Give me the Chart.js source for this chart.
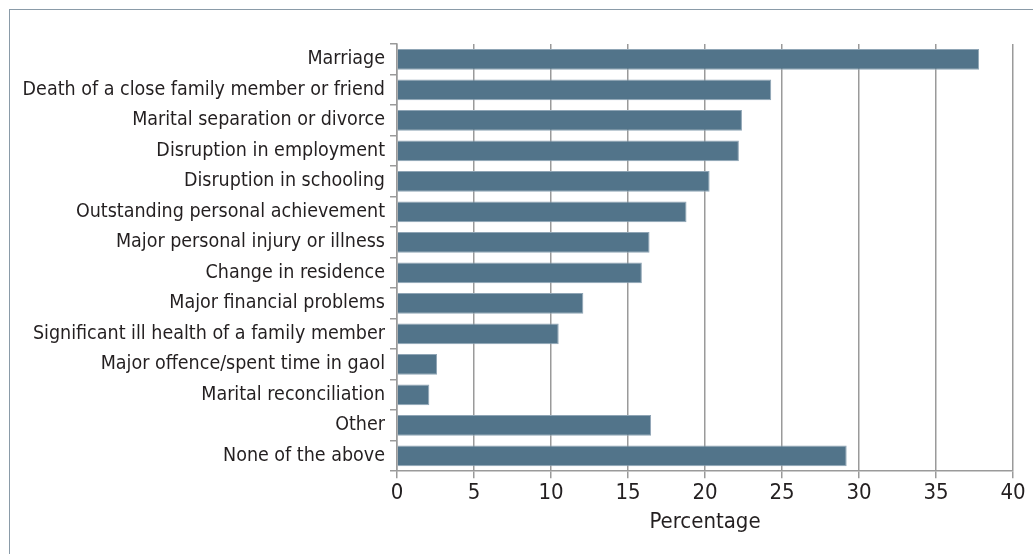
<!DOCTYPE html>
<html>
<head>
<meta charset="utf-8">
<script src="https://cdn.jsdelivr.net/npm/chart.js@4/dist/chart.umd.min.js"></script>
<style>
  html, body { margin: 0; padding: 0; background: #fff; overflow: hidden; }
  #wrap { position: relative; width: 1033px; height: 554px; }
  #frame { position: absolute; left: 9px; top: 9px; width: 1100px; height: 600px;
           border: 1.5px solid #8a9ba8; box-sizing: border-box; }
  #chart { position: absolute; left: 0; top: 0; }
</style>
</head>
<body>
<div id="wrap">
  <div id="frame"></div>
  <canvas id="chart" width="1033" height="554"></canvas>
</div>
<script>
// categories and values (percent)
const events = [
  'Marriage',
  'Death of a close family member or friend',
  'Marital separation or divorce',
  'Disruption in employment',
  'Disruption in schooling',
  'Outstanding personal achievement',
  'Major personal injury or illness',
  'Change in residence',
  'Major financial problems',
  'Significant ill health of a family member',
  'Major offence/spent time in gaol',
  'Marital reconciliation',
  'Other',
  'None of the above'
];
const percentages = [37.8, 24.3, 22.4, 22.2, 20.3, 18.8, 16.4, 15.9, 12.1, 10.5, 2.6, 2.1, 16.5, 29.2];
const xTicks = [0, 5, 10, 15, 20, 25, 30, 35, 40];

const fontFamily = '"DejaVu Sans Condensed", "Liberation Sans", sans-serif';
const textColor = '#231f20';
const gridColor = '#9a9a9a';

const ctx = document.getElementById('chart');
const myChart = new Chart(ctx, {
  type: 'bar',
  data: {
    labels: events,
    datasets: [{
      data: percentages,
      backgroundColor: '#52748a',
      borderColor: '#8fa5b5',
      borderWidth: 1,
      barPercentage: 0.68,
      categoryPercentage: 1
    }]
  },
  options: {
    indexAxis: 'y',
    responsive: false,
    animation: false,
    layout: { padding: { top: 44, right: 20, bottom: 19, left: 0 } },
    plugins: {
      legend: { display: false },
      tooltip: { enabled: false }
    },
    scales: {
      x: {
        min: 0,
        max: 40,
        afterBuildTicks: scale => { scale.ticks = xTicks.map(v => ({ value: v })); },
        border: { color: gridColor, width: 1.5 },
        grid: { color: gridColor, lineWidth: 1.5, tickLength: 7 },
        ticks: { color: textColor, font: { family: fontFamily, size: 22 }, padding: 2, maxRotation: 0 },
        title: {
          display: true,
          text: 'Percentage',
          color: textColor,
          font: { family: fontFamily, size: 22 },
          padding: { top: 0, bottom: 0 }
        }
      },
      y: {
        border: { color: gridColor, width: 1.5 },
        grid: { drawOnChartArea: false, offset: true, color: gridColor, lineWidth: 1.5, tickLength: 7 },
        ticks: { color: textColor, font: { family: fontFamily, size: 19.5 }, padding: 5, autoSkip: false },
        afterFit: scale => { scale.width = 397; }
      }
    }
  }
});
</script>
</body>
</html>
